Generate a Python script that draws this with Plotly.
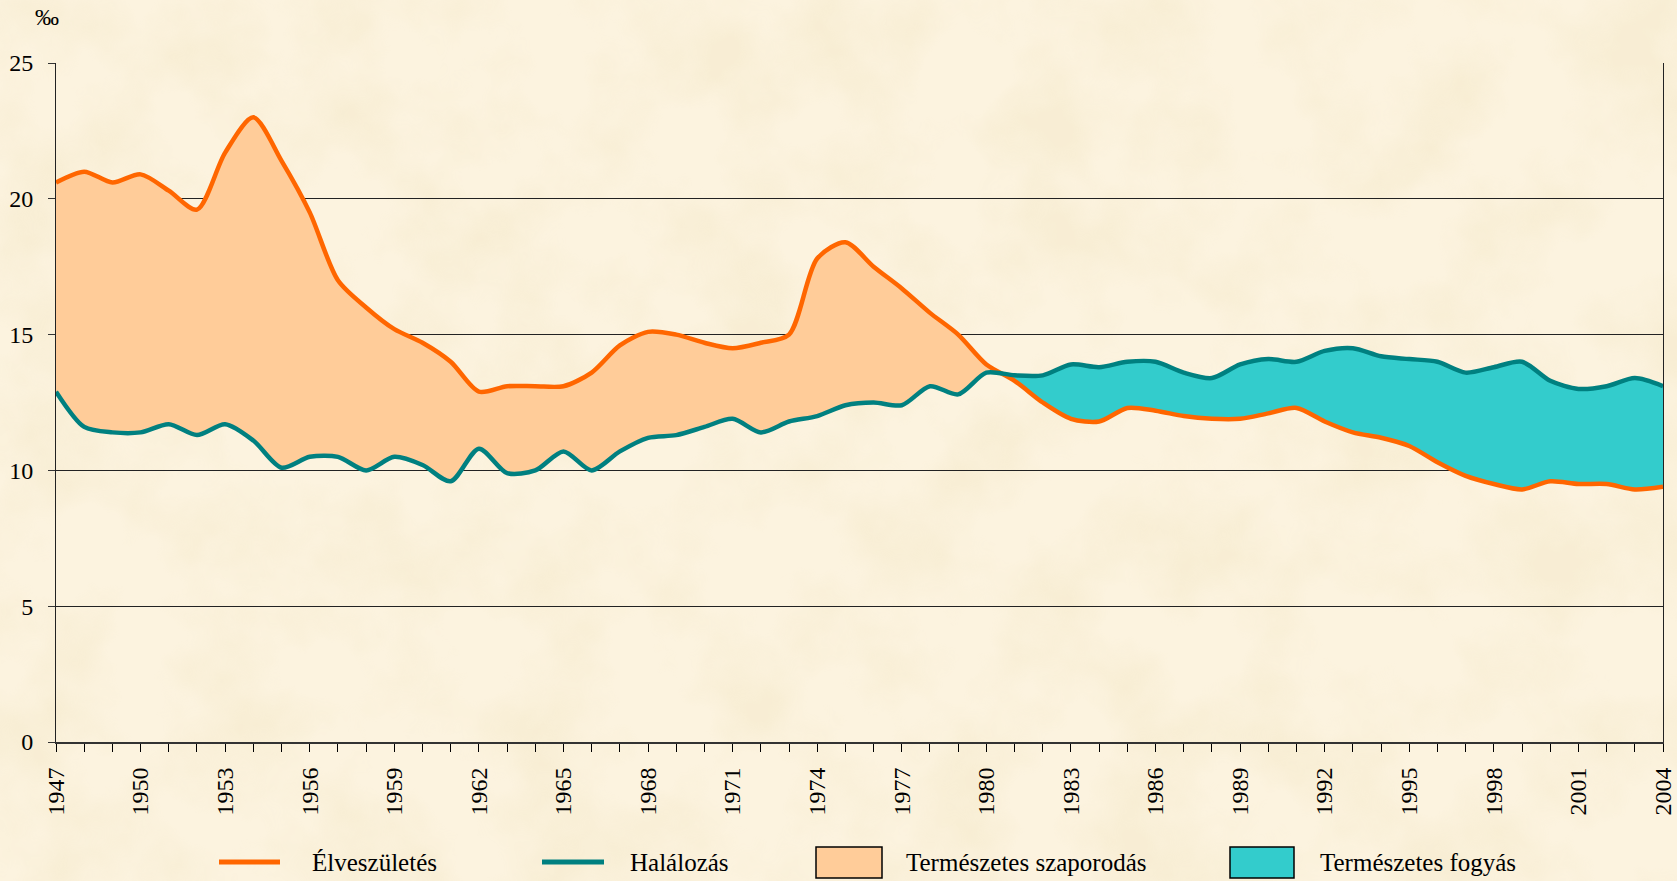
import base64
import plotly.graph_objects as go

years = list(range(1947, 2005))
birth = [20.6, 21.0, 20.6, 20.9, 20.3, 19.6, 21.7, 23.0, 21.4, 19.5,
         17.0, 16.0, 15.2, 14.7, 14.0, 12.9, 13.1, 13.1, 13.1, 13.6,
         14.6, 15.1, 15.0, 14.7, 14.5, 14.7, 15.0, 17.8, 18.4, 17.5,
         16.7, 15.8, 15.0, 13.9, 13.3, 12.5, 11.9, 11.8, 12.3, 12.2,
         12.0, 11.9, 11.9, 12.1, 12.3, 11.8, 11.4, 11.2, 10.9, 10.3,
         9.8, 9.5, 9.3, 9.6, 9.5, 9.5, 9.3, 9.4]
death = [12.9, 11.6, 11.4, 11.4, 11.7, 11.3, 11.7, 11.1, 10.1, 10.5,
         10.5, 10.0, 10.5, 10.2, 9.6, 10.8, 9.9, 10.0, 10.7, 10.0,
         10.7, 11.2, 11.3, 11.6, 11.9, 11.4, 11.8, 12.0, 12.4, 12.5,
         12.4, 13.1, 12.8, 13.6, 13.5, 13.5, 13.9, 13.8, 14.0, 14.0,
         13.6, 13.4, 13.9, 14.1, 14.0, 14.4, 14.5, 14.2, 14.1, 14.0,
         13.6, 13.8, 14.0, 13.3, 13.0, 13.1, 13.4, 13.1]
x_ticks = list(range(1947, 2005, 3))
y_ticks = [0, 5, 10, 15, 20, 25]
names = ["Élveszületés", "Halálozás", "Természetes szaporodás", "Természetes fogyás"]

C_BIRTH = "#FF6600"
C_DEATH = "#008080"
C_POS = "#FFCC99"
C_NEG = "#33CCCC"
BG = "#FAEFD7"
FONT = "Liberation Serif"

# split into segments where birth>death or death>birth, inserting crossing points
segments = []  # (sign, xs, b, d)
cur_x, cur_b, cur_d = [years[0]], [birth[0]], [death[0]]
cur_sign = 1 if birth[0] >= death[0] else -1
for i in range(1, len(years)):
    s = 1 if birth[i] >= death[i] else -1
    if s != cur_sign:
        d0 = birth[i - 1] - death[i - 1]
        d1 = birth[i] - death[i]
        t = d0 / (d0 - d1)
        xc = years[i - 1] + t
        vc = birth[i - 1] + t * (birth[i] - birth[i - 1])
        cur_x.append(xc); cur_b.append(vc); cur_d.append(vc)
        segments.append((cur_sign, cur_x, cur_b, cur_d))
        cur_x, cur_b, cur_d = [xc], [vc], [vc]
        cur_sign = s
    cur_x.append(years[i]); cur_b.append(birth[i]); cur_d.append(death[i])
segments.append((cur_sign, cur_x, cur_b, cur_d))

fig = go.Figure()
SM = 0.8
for sign, xs, b, d in segments:
    if sign > 0:
        lower, upper, col = d, b, C_POS
    else:
        lower, upper, col = b, d, C_NEG
    fig.add_trace(go.Scatter(x=xs, y=lower, mode="lines", line=dict(width=0, shape="spline", smoothing=SM),
                             showlegend=False, hoverinfo="skip"))
    fig.add_trace(go.Scatter(x=xs, y=upper, mode="lines", line=dict(width=0, shape="spline", smoothing=SM),
                             fill="tonexty", fillcolor=col, showlegend=False, hoverinfo="skip"))

fig.add_trace(go.Scatter(x=years, y=birth, mode="lines", name=names[0],
                         line=dict(color=C_BIRTH, width=4.5, shape="spline", smoothing=SM), showlegend=False))
fig.add_trace(go.Scatter(x=years, y=death, mode="lines", name=names[1],
                         line=dict(color=C_DEATH, width=4.5, shape="spline", smoothing=SM), showlegend=False))

W, H = 1677, 881
ML, MR, MT, MB = 56, 14, 63, 139
PW, PH = W - ML - MR, H - MT - MB

def px(xp):
    return (xp - ML) / PW

def py(yp):
    return (H - MB - yp) / PH

shapes = []
annotations = []
ly = 862
for (x0, x1, col) in [(219, 280, C_BIRTH), (542, 604, C_DEATH)]:
    shapes.append(dict(type="line", xref="paper", yref="paper", x0=px(x0), x1=px(x1), y0=py(ly), y1=py(ly),
                       line=dict(color=col, width=5)))
for (x0, x1, col) in [(816, 882, C_POS), (1230, 1294, C_NEG)]:
    shapes.append(dict(type="rect", xref="paper", yref="paper", x0=px(x0), x1=px(x1), y0=py(847), y1=py(878),
                       fillcolor=col, line=dict(color="#000000", width=1.5)))
for (xt, txt) in [(310, names[0]), (628, names[1]), (904, names[2]), (1318, names[3])]:
    annotations.append(dict(x=px(xt), y=py(ly), xref="paper", yref="paper", text=txt, showarrow=False,
                            xanchor="left", yanchor="middle", font=dict(family=FONT, size=25, color="#000000")))
annotations.append(dict(x=px(47), y=py(17), xref="paper", yref="paper", text="‰", showarrow=False,
                        xanchor="center", yanchor="middle", font=dict(family=FONT, size=24, color="#000000")))

# parchment-like background texture (SVG noise)
svg = (
    "<svg xmlns='http://www.w3.org/2000/svg' width='1677' height='881' viewBox='0 0 1677 881'>"
    "<filter id='f' x='0' y='0' width='100%' height='100%'>"
    "<feTurbulence type='fractalNoise' baseFrequency='0.010' numOctaves='4' seed='7'/>"
    "<feColorMatrix type='matrix' values='0 0 0 0 0.86  0 0 0 0 0.76  0 0 0 0 0.50  2.6 0 0 0 -1.05'/>"
    "</filter>"
    "<rect width='1677' height='881' fill='#FCF3DF'/>"
    "<rect width='1677' height='881' filter='url(#f)' opacity='0.30'/>"
    "</svg>"
)
bg_uri = "data:image/svg+xml;base64," + base64.b64encode(svg.encode("utf-8")).decode("ascii")

fig.update_layout(
    width=W, height=H,
    margin=dict(l=ML, r=MR, t=MT, b=MB, autoexpand=False),
    paper_bgcolor=BG, plot_bgcolor="rgba(0,0,0,0)",
    font=dict(family=FONT, size=24, color="#000000"),
    shapes=shapes, annotations=annotations, showlegend=False,
    images=[dict(source=bg_uri, xref="paper", yref="paper", x=px(0), y=py(0), sizex=W / PW, sizey=H / PH,
                 xanchor="left", yanchor="top", sizing="stretch", layer="below")],
)
fig.update_xaxes(range=[1947, 2004], tickvals=x_ticks, ticktext=[str(v) for v in x_ticks],
                 tickangle=-90, ticks="outside", ticklen=8, tickwidth=1, tickcolor="#000000",
                 minor=dict(dtick=1, tick0=1947, ticks="outside", ticklen=8, tickwidth=1, tickcolor="#000000", showgrid=False),
                 showgrid=False, zeroline=False, showline=True, linecolor="#333333", linewidth=2,
                 automargin=False, ticklabelstandoff=6,
                 tickfont=dict(family=FONT, size=24, color="#000000"))
fig.update_yaxes(range=[0, 25], tickvals=y_ticks, ticks="outside", ticklen=7, tickcolor="#333333",
                 showgrid=True, gridcolor="#222222", gridwidth=1, zeroline=False,
                 showline=True, linecolor="#222222", linewidth=1, mirror=True, automargin=False,
                 tickfont=dict(family=FONT, size=24, color="#000000"), ticklabelstandoff=10)

fig.write_html("out.html", config={"displayModeBar": False},
               post_script="document.body.style.margin='0';document.body.style.background='" + BG + "';")
